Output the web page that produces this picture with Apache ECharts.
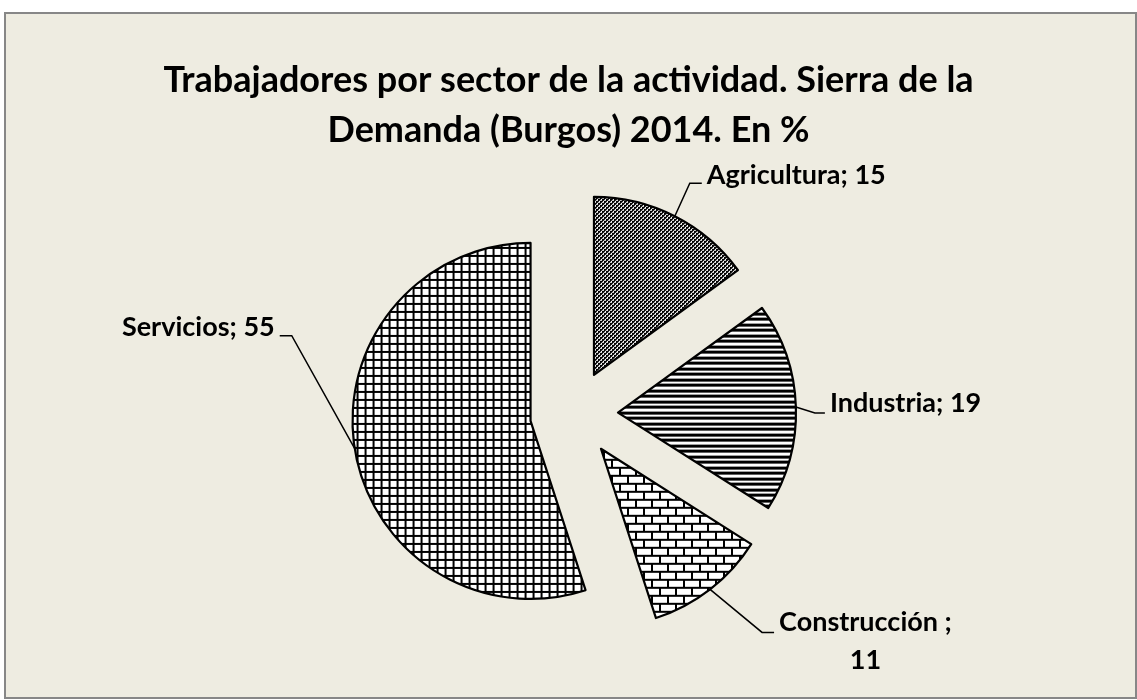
<!DOCTYPE html>
<html>
<head>
<meta charset="utf-8">
<script src="https://cdn.jsdelivr.net/npm/echarts@6/dist/echarts.min.js"></script>
<style>
html,body{margin:0;padding:0;background:#fff;}
#chart{width:1137px;height:700px;}
</style>
</head>
<body>
<div id="chart"></div>
<script>
const titleLines = ['Trabajadores por sector de la actividad. Sierra de la', 'Demanda (Burgos) 2014. En %'];
const categories = ['Agricultura', 'Industria', 'Construcción ', 'Servicios'];
const values = [15, 19, 11, 55];

const FONT = 'Lato';

function makePattern(w, h, draw) {
  const c = document.createElement('canvas');
  c.width = w; c.height = h;
  const g = c.getContext('2d');
  g.fillStyle = '#fff'; g.fillRect(0, 0, w, h);
  g.fillStyle = '#000';
  draw(g);
  return { image: c, repeat: 'repeat' };
}
const patterns = [
  makePattern(4, 4, g => { g.fillRect(0, 0, 2, 2); g.fillRect(2, 2, 2, 2); g.fillRect(0, 2, 1, 1); g.fillRect(2, 0, 1, 1); }),
  makePattern(4, 11, g => { g.fillRect(0, 0, 4, 3); g.fillRect(0, 6, 4, 3); }),
  makePattern(16, 16, g => {
    g.fillRect(0, 0, 16, 2); g.fillRect(0, 8, 16, 2);
    g.fillRect(0, 0, 2, 8); g.fillRect(8, 8, 2, 8);
  }),
  makePattern(8, 8, g => { g.fillRect(0, 0, 8, 2); g.fillRect(0, 0, 2, 8); })
];

// leader line layout per slice: first segment vector, horizontal length, label vertical shift
const leader = [
  { v: [15, -33], h: 12, dy: -8 },
  { v: [19, 6], h: 10, dy: -10 },
  { v: [52, 43], h: 12, dy: 9 },
  { v: [-63, -113], h: -12, dy: -8 }
];

const chart = echarts.init(document.getElementById('chart'), null, { renderer: 'canvas' });
const option = {
  backgroundColor: '#ffffff',
  animation: false,
  graphic: [{
    type: 'rect', z: -10, silent: true,
    shape: { x: 5, y: 13, width: 1131, height: 685 },
    style: { fill: '#EEECE1', stroke: '#878787', lineWidth: 2 }
  }],
  title: {
    text: titleLines.join('\n'),
    left: 'center', top: 50,
    textStyle: { fontFamily: FONT, fontWeight: 'bold', fontSize: 36, lineHeight: 50, color: '#000' }
  },
  series: [{
    type: 'pie',
    center: [574, 414],
    radius: 178,
    startAngle: 90,
    clockwise: true,
    selectedMode: 'multiple',
    selectedOffset: 44,
    emphasis: { disabled: true },
    itemStyle: { borderColor: '#000', borderWidth: 2.2 },
    label: {
      show: true, position: 'outside',
      fontFamily: FONT, fontWeight: 'bold', fontSize: 27, color: '#000',
      formatter: p => p.dataIndex === 2
        ? '{a|' + p.name + ';}\n{a|' + p.value + '}'
        : p.name + '; ' + p.value,
      rich: { a: { fontFamily: FONT, fontWeight: 'bold', fontSize: 27, color: '#000', width: 170, align: 'center', lineHeight: 38 } }
    },
    labelLine: { show: true, length: 30, length2: 10, lineStyle: { color: '#000', width: 1.5 } },
    labelLayout: function (params) {
      const L = leader[params.dataIndex];
      const pts = params.labelLinePoints;
      if (!pts) return {};
      const p0 = pts[0];
      const p1 = [p0[0] + L.v[0], p0[1] + L.v[1]];
      const p2 = [p1[0] + L.h, p1[1]];
      const right = L.h > 0;
      const r = params.labelRect;
      const curX = right ? r.x : r.x + r.width;
      const curY = r.y + r.height / 2;
      const tx = p2[0] + (right ? 5 : -5);
      const ty = p2[1] + L.dy;
      return {
        dx: tx - curX,
        dy: ty - curY,
        labelLinePoints: [p0, p1, p2]
      };
    },
    data: categories.map((c, i) => ({
      name: c, value: values[i], selected: true,
      itemStyle: { color: patterns[i] }
    }))
  }]
};
chart.setOption(option);
</script>
</body>
</html>
